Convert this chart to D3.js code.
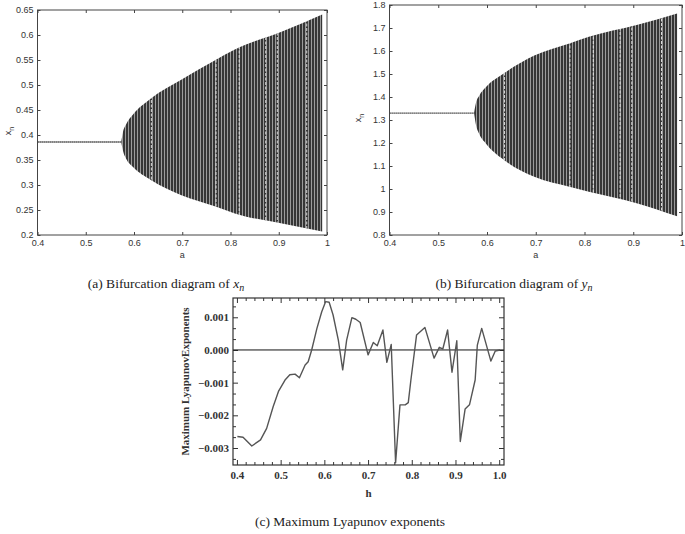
<!DOCTYPE html>
<html>
<head>
<meta charset="utf-8">
<script src="https://cdn.jsdelivr.net/npm/d3@7"></script>
<style>
  body { margin: 0; background: #fff }
  svg { display: block }
  .mat text { font-family: "Liberation Sans", Arial, sans-serif; font-size: 9px; fill: #333 }
  .mma text { font-family: "Liberation Serif", "Times New Roman", serif; font-weight: bold; font-size: 11px; fill: #333 }
  .caption { font-family: "Liberation Serif", "Times New Roman", serif; font-size: 13.5px; fill: #222 }
</style>
</head>
<body>
<svg id="chart" width="685" height="534"></svg>
<script>
// tick labels
var aTicks = [0.4, 0.5, 0.6, 0.7, 0.8, 0.9, 1]
var xnTicks = [0.2, 0.25, 0.3, 0.35, 0.4, 0.45, 0.5, 0.55, 0.6, 0.65]
var ynTicks = [0.8, 0.9, 1, 1.1, 1.2, 1.3, 1.4, 1.5, 1.6, 1.7, 1.8]
var hTicks = [0.4, 0.5, 0.6, 0.7, 0.8, 0.9, 1.0]
var lyTicks = [-0.003, -0.002, -0.001, 0, 0.001]

// bifurcation: fixed point before the Neimark-Sacker point, then the band envelope
var fixedRange = [0.4, 0.5735]
var xnFixed = 0.386
var ynFixed = 1.33
var aEnv = [0.5735, 0.577, 0.584, 0.598, 0.635, 0.697, 0.769, 0.809, 0.907, 0.99]
var xnUpper = [0.386, 0.405, 0.422, 0.441, 0.473, 0.51, 0.55, 0.571, 0.607, 0.641]
var xnLower = [0.386, 0.369, 0.352, 0.336, 0.31, 0.28, 0.257, 0.243, 0.223, 0.207]
var ynUpper = [1.33, 1.371, 1.405, 1.443, 1.503, 1.58, 1.633, 1.662, 1.713, 1.763]
var ynLower = [1.33, 1.283, 1.24, 1.197, 1.126, 1.053, 1.01, 0.988, 0.938, 0.881]
// periodic windows (white gaps in the band)
var windowsA = [0.636, 0.77, 0.818, 0.873, 0.897, 0.958]

// maximum Lyapunov exponent
var hValues = [0.401, 0.414, 0.434, 0.454, 0.468, 0.483, 0.495, 0.51, 0.521, 0.533, 0.543, 0.556, 0.563, 0.571,
  0.583, 0.594, 0.603, 0.611, 0.62, 0.632, 0.642, 0.651, 0.663, 0.672, 0.682, 0.70, 0.712, 0.721, 0.734, 0.743,
  0.753, 0.763, 0.773, 0.785, 0.792, 0.798, 0.811, 0.83, 0.851, 0.863, 0.871, 0.882, 0.892, 0.903, 0.911, 0.922,
  0.932, 0.945, 0.95, 0.96, 0.981, 0.991, 1.002]
var lyapunov = [-0.00265, -0.00267, -0.00294, -0.00275, -0.0024, -0.00173, -0.00127, -0.00092, -0.00076, -0.00074,
  -0.00085, -0.00046, -0.00036, 0.0000, 0.00066, 0.00117, 0.00148, 0.00146, 0.00107, 0.0003, -0.00061, 0.0003,
  0.00099, 0.00094, 0.00084, -0.00015, 0.00023, 0.00013, 0.00061, -0.00038, 0.00017, -0.00345, -0.00168, -0.00168,
  -0.00161, -0.00092, 0.00046, 0.00069, -0.00025, 0.00008, 0.00003, 0.00061, -0.00068, 0.00028, -0.0028, -0.00181,
  -0.00168, -0.00092, 0.00015, 0.00066, -0.00034, -0.00003, 0]

var svg = d3.select("#chart")
var defs = svg.append("defs")

var stripes = defs.append("pattern")
  .attr("id", "stripes")
  .attr("patternUnits", "userSpaceOnUse")
  .attr("width", 3).attr("height", 10)
stripes.append("rect").attr("width", 3).attr("height", 10).attr("fill", "#363636")
stripes.append("rect").attr("x", 2.2).attr("width", 0.8).attr("height", 10).attr("fill", "#b4b4b4")

function bifurcation(id, box, yDomain, yTicks, fixed, upper, lower, labelPos) {
  var x = d3.scaleLinear().domain([0.4, 1]).range([box.left, box.right])
  var y = d3.scaleLinear().domain(yDomain).range([box.bottom, box.top])
  var g = svg.append("g").attr("class", "mat")

  var rows = aEnv.map(function(a, i) { return { a: a, hi: upper[i], lo: lower[i] } })
  var area = d3.area()
    .curve(d3.curveMonotoneX)
    .x(function(d) { return x(d.a) })
    .y0(function(d) { return y(d.lo) })
    .y1(function(d) { return y(d.hi) })

  defs.append("clipPath").attr("id", "band-" + id)
    .append("path").attr("d", area(rows))

  g.append("path").attr("d", area(rows)).attr("fill", "url(#stripes)")

  g.append("g").attr("clip-path", "url(#band-" + id + ")")
    .selectAll("line").data(windowsA).join("line")
    .attr("x1", function(d) { return x(d) }).attr("x2", function(d) { return x(d) })
    .attr("y1", box.top).attr("y2", box.bottom)
    .attr("stroke", "#eee").attr("stroke-width", 0.9)
    .attr("stroke-dasharray", "3,1.5")

  g.append("line")
    .attr("x1", x(fixedRange[0])).attr("x2", x(fixedRange[1]))
    .attr("y1", y(fixed)).attr("y2", y(fixed))
    .attr("stroke", "#111").attr("stroke-width", 1.3)
    .attr("stroke-dasharray", "1.2,0.8")

  var fmt = function(d) { return String(d) }
  g.append("g").attr("transform", "translate(0," + box.bottom + ")")
    .call(d3.axisBottom(x).tickValues(aTicks).tickSize(-3).tickPadding(5).tickFormat(fmt))
  g.append("g").attr("transform", "translate(0," + box.top + ")")
    .call(d3.axisTop(x).tickValues(aTicks).tickSize(-3).tickFormat(""))
  g.append("g").attr("transform", "translate(" + box.left + ",0)")
    .call(d3.axisLeft(y).tickValues(yTicks).tickSize(-3).tickPadding(4).tickFormat(fmt))
  g.append("g").attr("transform", "translate(" + box.right + ",0)")
    .call(d3.axisRight(y).tickValues(yTicks).tickSize(-3).tickFormat(""))
  g.selectAll(".domain").remove()
  g.selectAll(".tick line").attr("stroke", "#444")
  g.selectAll(".tick text").attr("font-family", null).attr("font-size", null)

  g.append("rect")
    .attr("x", box.left).attr("y", box.top)
    .attr("width", box.right - box.left).attr("height", box.bottom - box.top)
    .attr("fill", "none").attr("stroke", "#444").attr("stroke-width", 1)

  g.append("text").attr("x", (box.left + box.right) / 2).attr("y", 258)
    .attr("text-anchor", "middle").text("a")

  var yl = g.append("text")
    .attr("transform", "translate(" + labelPos[0] + "," + labelPos[1] + ") rotate(-90)")
    .attr("text-anchor", "middle")
  yl.append("tspan").text("x")
  yl.append("tspan").attr("dy", 3).attr("font-size", 7).text("n")
}

bifurcation("a", { left: 37.5, right: 327, top: 10, bottom: 235 }, [0.2, 0.65], xnTicks,
  xnFixed, xnUpper, xnLower, [11, 131])
bifurcation("b", { left: 389.5, right: 682, top: 5, bottom: 235 }, [0.8, 1.8], ynTicks,
  ynFixed, ynUpper, ynLower, [361, 118])

// Lyapunov panel
var cBox = { left: 233, right: 504, top: 298, bottom: 465 }
var hx = d3.scaleLinear().domain([0.391, 1.011]).range([cBox.left, cBox.right])
var ly = d3.scaleLinear().domain([-0.00352, 0.00159]).range([cBox.bottom, cBox.top])
var gc = svg.append("g").attr("class", "mma")

var hMinor = d3.range(20, 51).map(function(i) { return i / 50 }).filter(function(d) { return hTicks.indexOf(d) < 0 })
var lyMinor = d3.range(-10, 5).map(function(i) { return i * 0.001 / 3 })
  .filter(function(d) { return d > ly.domain()[0] && d < ly.domain()[1] && Math.abs(Math.round(d * 3000) % 3) !== 0 })

function minusFmt(d) { return d3.format(".3f")(d).replace("-", "\u2212") }

gc.append("g").attr("transform", "translate(0," + cBox.bottom + ")")
  .call(d3.axisBottom(hx).tickValues(hTicks).tickSize(-5).tickPadding(6).tickFormat(d3.format(".1f")))
gc.append("g").attr("transform", "translate(0," + cBox.bottom + ")")
  .call(d3.axisBottom(hx).tickValues(hMinor).tickSize(-3).tickFormat(""))
gc.append("g").attr("transform", "translate(0," + cBox.top + ")")
  .call(d3.axisTop(hx).tickValues(hTicks).tickSize(-5).tickFormat(""))
gc.append("g").attr("transform", "translate(0," + cBox.top + ")")
  .call(d3.axisTop(hx).tickValues(hMinor).tickSize(-3).tickFormat(""))
gc.append("g").attr("transform", "translate(" + cBox.left + ",0)")
  .call(d3.axisLeft(ly).tickValues(lyTicks).tickSize(-5).tickPadding(4).tickFormat(minusFmt))
gc.append("g").attr("transform", "translate(" + cBox.left + ",0)")
  .call(d3.axisLeft(ly).tickValues(lyMinor).tickSize(-3).tickFormat(""))
gc.append("g").attr("transform", "translate(" + cBox.right + ",0)")
  .call(d3.axisRight(ly).tickValues(lyTicks).tickSize(-5).tickFormat(""))
gc.append("g").attr("transform", "translate(" + cBox.right + ",0)")
  .call(d3.axisRight(ly).tickValues(lyMinor).tickSize(-3).tickFormat(""))
gc.selectAll(".domain").remove()
gc.selectAll(".tick line").attr("stroke", "#333")
gc.selectAll(".tick text").attr("font-family", null).attr("font-size", null)

gc.append("line")
  .attr("x1", cBox.left).attr("x2", cBox.right)
  .attr("y1", ly(0)).attr("y2", ly(0))
  .attr("stroke", "#111").attr("stroke-width", 1)

var pts = hValues.map(function(h, i) { return [h, lyapunov[i]] })
gc.append("path")
  .attr("d", d3.line().x(function(d) { return hx(d[0]) }).y(function(d) { return ly(d[1]) })(pts))
  .attr("fill", "none").attr("stroke", "#555").attr("stroke-width", 1.4)
  .attr("stroke-linejoin", "round")

gc.append("rect")
  .attr("x", cBox.left).attr("y", cBox.top)
  .attr("width", cBox.right - cBox.left).attr("height", cBox.bottom - cBox.top)
  .attr("fill", "none").attr("stroke", "#333").attr("stroke-width", 1.2)

gc.append("text").attr("x", (cBox.left + cBox.right) / 2).attr("y", 497)
  .attr("text-anchor", "middle").attr("font-size", 12).text("h")
gc.append("text")
  .attr("transform", "translate(189," + ((cBox.top + cBox.bottom) / 2) + ") rotate(-90)")
  .attr("text-anchor", "middle").attr("font-size", 10.5).text("Maximum LyapunovExponents")

// captions
function caption(cx, cy, text, sym) {
  var t = svg.append("text").attr("class", "caption")
    .attr("x", cx).attr("y", cy).attr("text-anchor", "middle")
  t.append("tspan").text(text)
  if (sym) {
    t.append("tspan").attr("font-style", "italic").text(sym)
    t.append("tspan").attr("font-style", "italic").attr("font-size", 10).attr("dy", 3).text("n")
  }
}
caption(166, 288, "(a) Bifurcation diagram of ", "x")
caption(514, 288, "(b) Bifurcation diagram of ", "y")
caption(350, 526, "(c) Maximum Lyapunov exponents")
</script>
</body>
</html>
